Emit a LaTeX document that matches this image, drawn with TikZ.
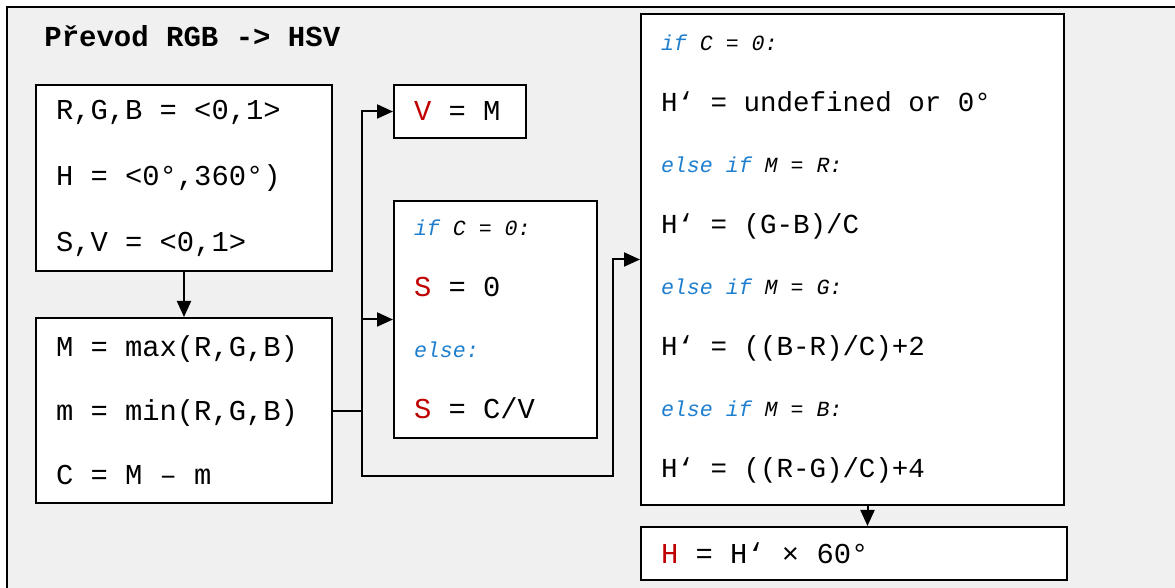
\documentclass[tikz,border=0pt]{standalone}
\usepackage{fontspec}
\usepackage{xcolor}
\usepackage{tikz}
\usetikzlibrary{arrows.meta,positioning}
\newfontfamily\codefont{Liberation Mono}
\definecolor{bgc}{HTML}{F0F0F0}
\definecolor{varc}{HTML}{C00000}
\definecolor{kwc}{HTML}{1E7FCF}
\newcommand{\kw}[1]{\textcolor{kwc}{#1}}
\newcommand{\var}[1]{\textcolor{varc}{#1}}
\newcommand{\cond}[1]{{\fontsize{10.8}{30.5}\selectfont\itshape #1}}

\begin{document}
\begin{tikzpicture}[x=0.5pt,y=-0.5pt,>={Triangle[length=8pt,width=7pt]},
  box/.style={draw,fill=white,line width=1pt,anchor=north west,align=left,
    inner xsep=10pt,inner ysep=0pt,font=\codefont\fontsize{14.4}{32}\selectfont,
    execute at begin node={\spaceskip=0pt\xspaceskip=0pt}},
  conn/.style={line width=1pt}]
  \useasboundingbox (0,0) rectangle (1175,588);
  % background panel, open to the right and bottom
  \fill[bgc] (7,7) rectangle (1175,588);
  \draw[line width=1pt] (7,588) -- (7,7) -- (1175,7);
  \node[anchor=west,inner sep=0pt,font=\codefont\bfseries\fontsize{14.5}{17}\selectfont] (title) at (44,36) {Převod RGB -> HSV};
  % input ranges
  \node[box,minimum width=148pt,minimum height=93pt,text width=128pt,
        font=\codefont\fontsize{14.4}{33}\selectfont] (rng) at (35,84)
        {R,G,B = <0,1>\\H = <0°,360°)\\S,V = <0,1>};
  % max, min, chroma
  \node[box,minimum width=148pt,minimum height=92.5pt,text width=128pt] (mmc) at (35,317)
        {M = max(R,G,B)\\m = min(R,G,B)\\C = M – m};
  % value
  \node[box,minimum width=66pt,minimum height=26.5pt,text width=46pt] (val) at (393,84)
        {\var{V} = M};
  % saturation
  \node[box,minimum width=101.5pt,minimum height=118.5pt,text width=81.5pt,
        font=\codefont\fontsize{14.4}{30.5}\selectfont] (sat) at (393,200)
        {\cond{\kw{if} C = 0:}\\\var{S} = 0\\\cond{\kw{else:}}\\\var{S} = C/V};
  % hue sector
  \node[box,minimum width=211.5pt,minimum height=245.5pt,text width=191.5pt,
        font=\codefont\fontsize{13.75}{30.5}\selectfont] (hp) at (640,13)
        {\cond{\kw{if} C = 0:}\\H‘ = undefined or 0°\\
         \cond{\kw{else if} M = R:}\\H‘ = (G-B)/C\\
         \cond{\kw{else if} M = G:}\\H‘ = ((B-R)/C)+2\\
         \cond{\kw{else if} M = B:}\\H‘ = ((R-G)/C)+4};
  % hue in degrees
  \node[box,minimum width=213pt,minimum height=26.5pt,text width=193pt] (hue) at (640,526)
        {\var{H} = H‘ × 60°};
  % connectors
  \coordinate (split) at (362,411);
  \coordinate (low) at (613,476);
  \draw[conn,->] (rng) -- (mmc);
  \draw[conn] (mmc.east |- split) -- (split);
  \draw[conn,->] (split) |- (val.west);
  \draw[conn,->] (split) |- (sat.west);
  \draw[conn,->] (split) |- (low) |- (hp.west);
  \draw[conn,->] ([xshift=7.5pt]hp.south) -- ([xshift=7.5pt]hp.south |- hue.north);
\end{tikzpicture}
\end{document}
